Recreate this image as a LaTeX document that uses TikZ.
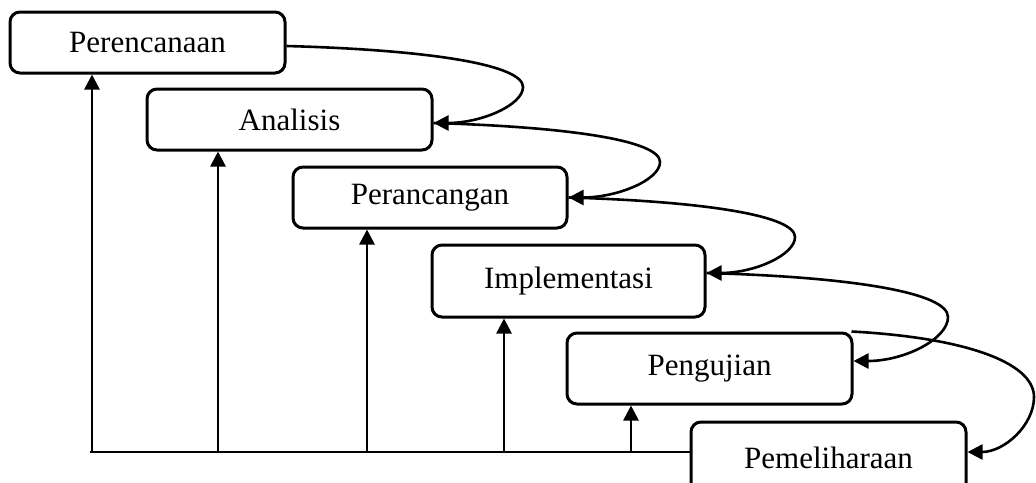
\documentclass[tikz,border=0pt]{standalone}
\usepackage{fontspec}
\setmainfont{Liberation Serif}
\usetikzlibrary{arrows.meta,calc}
\begin{document}
\begin{tikzpicture}[x=0.5pt,y=-0.5pt,
  box/.style={draw, line width=1.5pt, rounded corners=5pt, inner sep=0pt,
              font=\fontsize{15.5pt}{18pt}\selectfont},
  flow/.style={line width=1.3pt, -{Triangle[length=7.5pt,width=7.5pt]}},
  uparrow/.style={line width=1.35pt, -{Triangle[length=7.5pt,width=7.5pt]}},
  baseline/.style={line width=1pt}]
\path[use as bounding box, clip] (0,0) rectangle (1036,482);

\node[box, minimum width=137.5pt, minimum height=30.5pt] (n1) at (147.5,42.5) {Perencanaan};
\node[box, minimum width=142.5pt, minimum height=30.5pt] (n2) at (289.5,119.5) {Analisis};
\node[box, minimum width=137pt, minimum height=30.5pt] (n3) at (430,197.5) {Perancangan};
\node[box, minimum width=136.5pt, minimum height=36pt] (n4) at (568.5,281) {Implementasi};
\node[box, minimum width=142.5pt, minimum height=35.5pt] (n5) at (709.5,368.5) {Pengujian};
\node[box, minimum width=137.5pt, minimum height=36pt] (n6) at (828.5,458) {Pemeliharaan};

% ports of the curved connectors
\coordinate (s1) at ([yshift=-1.75pt]n1.east);
\coordinate (e1) at ([yshift=-1.75pt]n2.east);
\coordinate (e2) at (n3.east);
\coordinate (e3) at ([yshift=4pt]n4.east);
\coordinate (e4) at ([yshift=3.75pt]n5.east);
\coordinate (s5) at ([xshift=-1pt]n5.north east);
\coordinate (e5) at ([yshift=3pt]n6.east);
% turning points
\coordinate (m1) at (523,87);
\coordinate (m2) at (660,162);
\coordinate (m3) at (795,237);
\coordinate (m4) at (948,317);
\coordinate (m5) at (1034,397);

\draw[flow] (s1) .. controls +(145,4) and +(0,-22) .. (m1)
                 .. controls +(0,18) and +(48,0) .. (e1);
\draw[flow] (e1) .. controls +(139,4) and +(0,-21) .. (m2)
                 .. controls +(0,18) and +(49,0) .. (e2);
\draw[flow] (e2) .. controls +(139,4) and +(0,-21) .. (m3)
                 .. controls +(0,18) and +(48,0) .. (e3);
\draw[flow] (e3) .. controls +(148,4) and +(0,-24) .. (m4)
                 .. controls +(0,22) and +(51,0) .. (e4);
\draw[flow] (s5) .. controls +(112,6) and +(0,-35) .. (m5)
                 .. controls +(0,28) and +(37,0) .. (e5);

% feedback base line and vertical arrows
\coordinate (b0) at (90,452);
\coordinate (b1) at (92,452);
\coordinate (b2) at (218,452);
\coordinate (b3) at (367,452);
\coordinate (b4) at (504,452);
\coordinate (b5) at (631,452);
\draw[baseline] (b0) -- (b0 -| n6.west);
\draw[uparrow] (b1) -- (b1 |- n1.south);
\draw[uparrow] (b2) -- (b2 |- n2.south);
\draw[uparrow] (b3) -- (b3 |- n3.south);
\draw[uparrow] (b4) -- (b4 |- n4.south);
\draw[uparrow] (b5) -- (b5 |- n5.south);
\end{tikzpicture}
\end{document}
